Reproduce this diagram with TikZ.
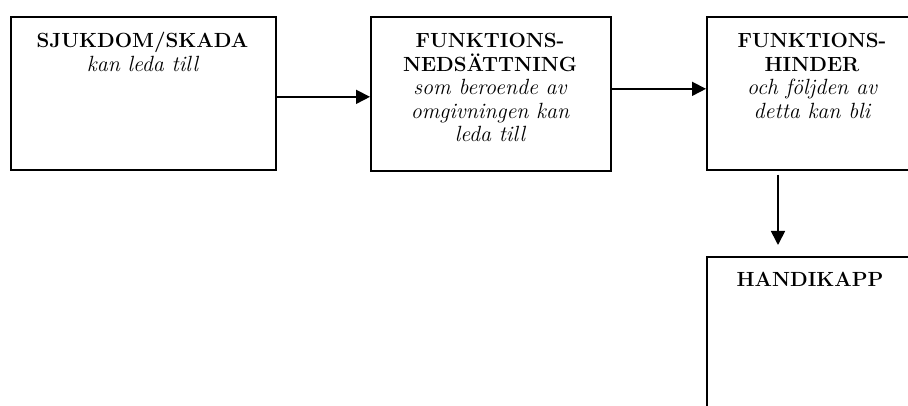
\documentclass[tikz,border=0pt]{standalone}
\usepackage{fontspec}
\usetikzlibrary{arrows.meta}
\newcommand\kursiv[1]{{\fontsize{22}{23.5}\selectfont\mdseries\itshape #1}}
\tikzset{
  box/.style={draw, line width=1.7pt, anchor=north west, inner sep=0pt},
  txt/.style={anchor=north, inner sep=0pt, align=center, font=\fontsize{20.5}{23.5}\selectfont\bfseries},
  arr/.style={line width=1.7pt, -{Triangle[length=14pt,width=14pt]}}
}
\begin{document}
\begin{tikzpicture}[x=1pt,y=-1pt]
			\clip (0,0) rectangle (908,406);
			\draw node[box, minimum width=265pt, minimum height=153pt] (1) at (10,16) {};
			\draw node[box, minimum width=240pt, minimum height=154pt] (2) at (370,16) {};
			\draw node[box, minimum width=224pt, minimum height=153pt] (3) at (706,16) {};
			\draw node[box, minimum width=224pt, minimum height=180pt] (4) at (706,256) {};

			\draw node[txt] (t1) at (142.5,32) {SJUKDOM/SKADA\\\kursiv{kan leda till}};
			\draw node[txt] (t2) at (490,33) {FUNKTIONS-\\NEDS\"ATTNING\\\kursiv{som beroende av}\\\kursiv{omgivningen kan}\\\kursiv{leda till}};
			\draw node[txt] (t3) at (812,33) {FUNKTIONS-\\HINDER\\\kursiv{och f\"oljden av}\\\kursiv{detta kan bli}};
			\draw node[txt] (t4) at (810,272) {HANDIKAPP};

			\draw[arr] ([yshift=-3.5pt]1.east) -- ([yshift=-3pt]2.west);
			\draw[arr] ([yshift=5pt]2.east) -- ([yshift=4.5pt]3.west);
			\draw[arr] ([xshift=72pt,yshift=-4pt]3.south west) -- ([xshift=72pt,yshift=11pt]4.north west);
		\end{tikzpicture}
\end{document}
